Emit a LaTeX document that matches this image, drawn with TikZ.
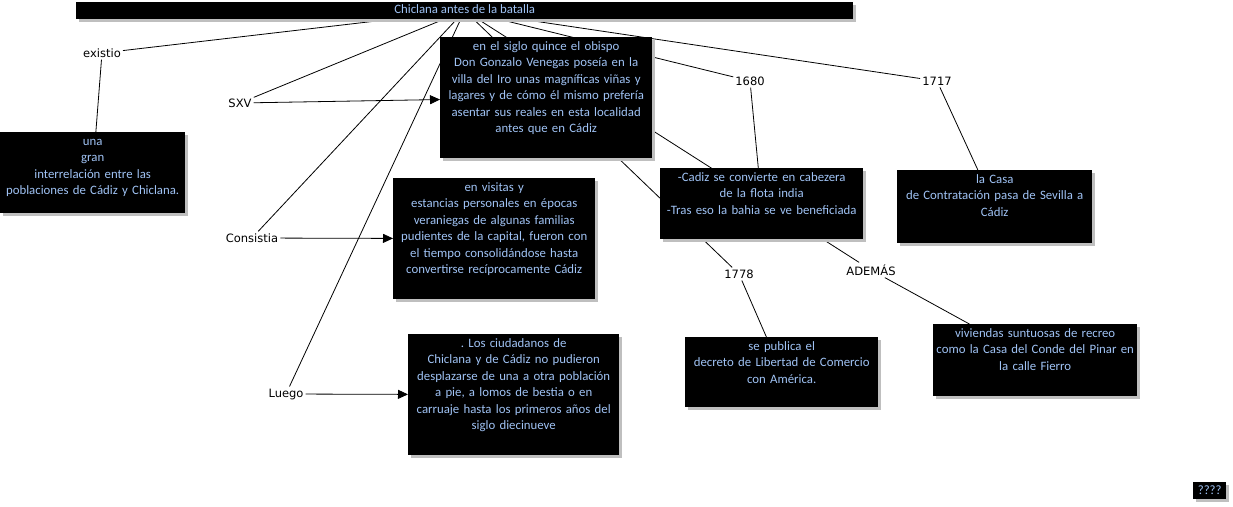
\documentclass[tikz,border=0pt]{standalone}
\usepackage{fontspec}
\newfontfamily\cmfont{Carlito}
\newfontfamily\lblfont{DejaVu Sans}
\usepackage{xcolor}
\usetikzlibrary{arrows.meta, shadows, backgrounds}
\definecolor{cmblue}{RGB}{160,195,245}
\frenchspacing

\begin{document}
\begin{tikzpicture}[
    x=1pt, y=-1pt,
    cbox/.style = {
        fill=black, text=cmblue, anchor=north west,
        align=center, inner sep=0pt, text height=13pt,
        font=\cmfont\fontsize{12.8}{16.5}\selectfont,
        drop shadow={shadow xshift=3pt, shadow yshift=-3pt, fill=black!25, opacity=1}
    },
    tbox/.style = {
        cbox, minimum width=777pt, minimum height=17pt,
        text height=9.5pt, text depth=3pt
    },
    lword/.style = {
        font=\lblfont\fontsize{11.5}{13}\selectfont, inner sep=2pt
    },
    lnk/.style = {line width=0.8pt},
    arr/.style = {->, line width=0.8pt, >={Triangle[length=10pt, width=9pt]}}
]
\useasboundingbox (0,0) rectangle (1233,506);

%% ---- TITLE ----
\node[tbox] (title) at (76,2) {Chiclana antes de la batalla};

%% ---- LINKING WORDS ----
\node[lword] (exist)   at (102,53)  {existio};
\node[lword] (sxv)     at (240,103) {SXV};
\node[lword] (consist) at (252,238) {Consistia};
\node[lword] (luego)   at (286,394) {Luego};
\node[lword] (l1680)   at (750,81)  {1680};
\node[lword] (l1717)   at (937,81)  {1717};
\node[lword] (l1778)   at (739,274) {1778};
\node[lword] (ademas)  at (871,270) {ADEMÁS};

%% ---- CONCEPTS ----
\node[cbox, text width=185pt, text depth=68pt] (interrel) at (0,132)
    {una\\gran\\interrelación entre las\\poblaciones de Cádiz y Chiclana.};
\node[cbox, text width=212pt, text depth=108pt] (obispo) at (440,37)
    {en el siglo quince el obispo\\Don Gonzalo Venegas poseía en la\\villa del Iro unas magníficas viñas y\\lagares y de cómo él mismo prefería\\asentar sus reales en esta localidad\\antes que en Cádiz};
\node[cbox, text width=202pt, text depth=108pt] (visitas) at (393,178)
    {en visitas y\\estancias personales en épocas\\veraniegas de algunas familias\\pudientes de la capital, fueron con\\el tiempo consolidándose hasta\\convertirse recíprocamente Cádiz};
\node[cbox, text width=211pt, text depth=108pt] (ciudad) at (408,334)
    {. Los ciudadanos de\\Chiclana y de Cádiz no pudieron\\desplazarse de una a otra población\\a pie, a lomos de bestia o en\\carruaje hasta los primeros años del\\siglo diecinueve};
\node[cbox, text width=203pt, text depth=58pt] (cabezera) at (660,168)
    {-Cadiz se convierte en cabezera\\de la flota india\\-Tras eso la bahia se ve beneficiada};
\node[cbox, text width=195pt, text depth=60pt] (casa) at (897,170)
    {la Casa\\de Contratación pasa de Sevilla a\\Cádiz};
\node[cbox, text width=193pt, text depth=57pt] (decreto) at (685,337)
    {se publica el\\decreto de Libertad de Comercio\\con América.};
\node[cbox, text width=204pt, text depth=59pt] (viviendas) at (933,324)
    {viviendas suntuosas de recreo\\como la Casa del Conde del Pinar en\\la calle Fierro};
\node[cbox, text width=33pt, text height=12pt, text depth=5pt] (qmark) at (1193,482) {????};

%% ---- CONNECTORS ----
\begin{scope}[on background layer]
\fill[white] (0,0) rectangle (1233,506);

\draw[lnk] (title) -- (exist);
\draw[lnk] (title) -- (sxv);
\draw[lnk] (title) -- (consist);
\draw[lnk] (title) -- (luego);
\draw[lnk] (title) -- (l1680);
\draw[lnk] (title) -- (l1717);
\draw[lnk] (title) -- (l1778);
\draw[lnk] (title) -- (ademas);

\draw[lnk] (exist)  -- (interrel);
\draw[arr] (sxv)     -- (obispo);
\draw[arr] (consist) -- (visitas);
\draw[arr] (luego)   -- (ciudad);
\draw[lnk] (l1680)  -- (cabezera);
\draw[lnk] (l1717)  -- (casa);
\draw[lnk] (l1778)  -- (decreto);
\draw[lnk] (ademas) -- (viviendas);
\end{scope}

\end{tikzpicture}
\end{document}
